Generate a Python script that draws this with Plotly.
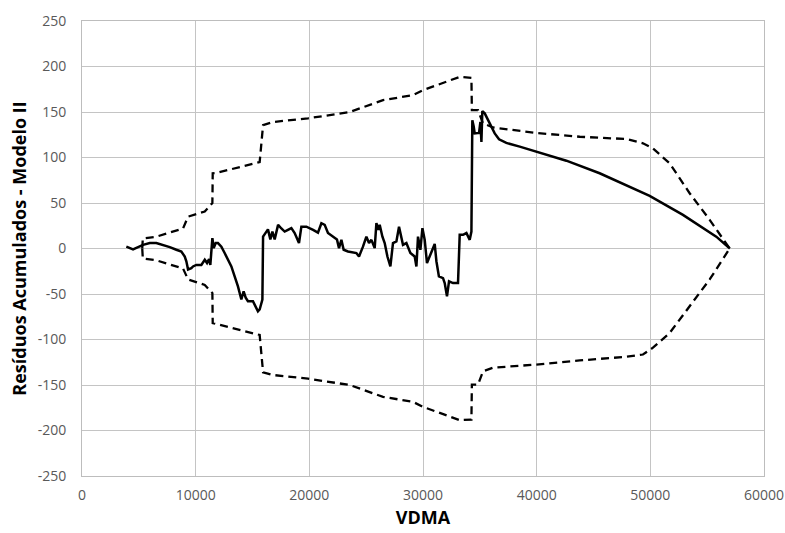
import plotly.graph_objects as go

# Cumulative residuals (CUSUM) of model II against VDMA
vdma_res = [3900, 4490, 5370, 5960, 6540, 7130, 7720, 8300, 8740, 9040,
            9180, 9330, 9620, 9770, 10060, 10500, 10800, 11000, 11180, 11290,
            11470, 11590, 11760, 11960, 12260, 12550, 12840, 13140, 13430, 13720,
            14020, 14220, 14400, 14600, 15040, 15280, 15480, 15630, 15870, 15930,
            16160, 16360, 16570, 16750, 16950, 17250, 17540, 17830, 18120, 18420,
            18710, 19090, 19300, 19740, 20330, 20760, 21060, 21350, 21640, 22080,
            22430, 22610, 22820, 23020, 23400, 24140, 24370, 24720, 25020, 25250,
            25460, 25750, 25900, 26080, 26190, 26430, 26630, 26870, 27130, 27360,
            27660, 27890, 28100, 28240, 28540, 28890, 29270, 29420, 29560, 29770,
            29950, 30150, 30350, 30740, 31030, 31180, 31400, 31760, 31910, 32110,
            32290, 32640, 33080, 33230, 33520, 33820, 34110, 34260, 34340, 34460,
            34550, 34930, 35050, 35140, 35220, 35430, 35870, 36310, 36690, 37330,
            38510, 39970, 42610, 45540, 48480, 49940, 52870, 55800, 57000]
residuos = [2, -1, 4, 6, 6, 4, 1.5, -1.4, -3.3, -8.8,
            -14, -23, -21.5, -19.7, -18, -18, -12.4, -16, -11.7, -18,
            11.4, 0.4, 6, 6, 2, -5, -12.4, -19.7, -30.7, -41.7,
            -56, -47, -54, -58, -58, -63.6, -69, -67, -56, 13,
            17, 21, 10, 18.6, 10, 26, 22, 18.6, 20.5, 22.4,
            17, 6, 24, 24, 20.5, 17.5, 27.8, 26, 17, 13,
            10, 0.4, 9.5, -1.4, -3.3, -5, -8.8, 2, 13, 6,
            9.5, 0.4, 27.8, 20.5, 26, 13, 6, -8.8, -19.7, 6,
            7.7, 24, 13, 4, 6, -5, -8.8, -19.7, 13, -1.4,
            22.4, 9.5, -16, -5, 5, -14, -30.7, -32.5, -38, -52.6,
            -36, -38, -38, 15, 15, 17, 9.5, 18.6, 141, 134,
            126.5, 127, 139, 117, 151, 148.5, 137.5, 126.5, 120, 116,
            112, 106.4, 96.5, 82.7, 66.2, 57.8, 37, 13, 0]

# Confidence limits
vdma_lim = [5300, 5350, 6540, 7720, 8890, 9330, 10800, 11470, 11500, 11820,
            15630, 15930, 16800, 19880, 23550, 26480, 29120, 30000, 32060, 33230,
            34260, 34300, 34840, 35280, 36160, 39970, 43790, 47900, 49350, 50230,
            51700, 53460, 55220, 56980]
lim_sup = [0, 11, 13, 17.5, 22, 35, 40.6, 50, 82.7, 83,
           95, 135.6, 139, 143, 150, 163, 168.5, 174, 183, 188.6,
           187.5, 152, 152, 137.5, 133, 127, 122.8, 120.3, 115.6, 110,
           93.6, 60.7, 31.5, 0]
lim_inf = [0, -11, -13, -17.5, -22, -34, -40, -49, -82, -83,
           -95, -136, -139, -143, -150, -163, -168.5, -174, -183, -188.6,
           -188, -149.5, -149.5, -135, -131, -127.5, -123, -119, -116.5, -109,
           -92.8, -63.6, -34, 0]

x_ticks = [0, 10000, 20000, 30000, 40000, 50000, 60000]
y_ticks = [-250, -200, -150, -100, -50, 0, 50, 100, 150, 200, 250]

dash_style = dict(color="black", width=2.3, dash="8px,5px")

fig = go.Figure()
fig.add_trace(go.Scatter(x=vdma_lim, y=lim_sup, mode="lines", line=dash_style,
                         showlegend=False, hoverinfo="skip"))
fig.add_trace(go.Scatter(x=vdma_lim, y=lim_inf, mode="lines", line=dash_style,
                         showlegend=False, hoverinfo="skip"))
fig.add_trace(go.Scatter(x=vdma_res, y=residuos, mode="lines",
                         line=dict(color="black", width=2.5),
                         showlegend=False))

axis_common = dict(
    showgrid=True, gridcolor="#c4c4c4", gridwidth=1,
    showline=True, linecolor="#bdbdbd", linewidth=1, mirror=True,
    zeroline=False, ticks="", automargin=False,
    tickfont=dict(family="Open Sans, sans-serif", size=14, color="#595959"),
)

fig.update_layout(
    width=785, height=533,
    margin=dict(l=82, r=21, t=21, b=57),
    paper_bgcolor="white", plot_bgcolor="white",
    xaxis=dict(range=[0, 60000], tickvals=x_ticks,
               ticktext=[str(v) for v in x_ticks],
               ticklabelstandoff=6,
               title=dict(text="VDMA", standoff=8,
                          font=dict(family="Open Sans, sans-serif", size=18,
                                    color="black", weight="bold")),
               **axis_common),
    yaxis=dict(range=[-250, 250], tickvals=y_ticks,
               ticktext=[str(v) for v in y_ticks],
               ticklabelstandoff=12,
               title=dict(text="Resíduos Acumulados - Modelo II", standoff=6,
                          font=dict(family="Open Sans, sans-serif", size=18,
                                    color="black", weight="bold")),
               **axis_common),
)

fig.write_html("out.html")
